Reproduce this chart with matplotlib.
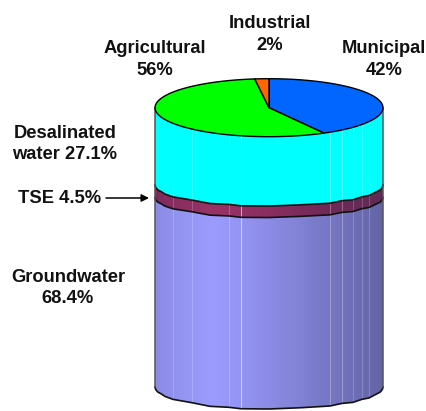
import numpy as np
import matplotlib
matplotlib.use("Agg")
import matplotlib.pyplot as plt
from matplotlib.patches import Polygon
from matplotlib.colors import LinearSegmentedColormap

# top of the cylinder: use by sector
use_names = ["Municipal", "Agricultural", "Industrial"]
use_values = [42, 56, 2]
use_colors = ["#0066ff", "#00ff00", "#ff6600"]

# body of the cylinder: source of water, top to bottom
source_values = [27.1, 4.5, 68.4]

plt.rcParams["font.family"] = ["Liberation Sans", "DejaVu Sans"]

cx, cy = 269, 107.7
rx, ry = 114, 29
stack_top = 110
stack_h = 277
low_ry = [21, 20, 22]

# x of the facet seams on the side of the cylinder, with a small wobble for the rough edge
seams = np.array([155, 155.6, 156.5, 158, 161, 165, 173, 192, 210, 229, 241, 269,
                  300, 330, 342, 353, 362, 369, 376, 380, 381.5, 382.4, 383])
wobble = np.array([0, 0, 0, 0.2, -0.3, 0.4, 0.5, -0.5, 0.5, -0.3, 0.4, 0,
                   -0.4, 0.4, -0.5, 0.5, -0.4, 0.4, -0.3, 0.2, 0, 0, 0])
light_seams = [173, 192, 229, 241, 330, 342, 353, 362, 369]
seam_alpha = [0.2, 0.2, 0.25, 0.6, 0.3, 0.3, 0.2, 0.2, 0.2]


def lower_edge(y, b):
    ys = y + b * np.sqrt(np.clip(1 - ((seams - cx) / rx) ** 2, 0, 1))
    return ys + wobble


fig = plt.figure(figsize=(4.27, 4.11), dpi=100)
ax = fig.add_axes([0, 0, 1, 1])
ax.set_xlim(0, 427)
ax.set_ylim(411, 0)
ax.axis("off")

cyan = LinearSegmentedColormap.from_list("c", ["#00ffff", "#00ffff"])
tse = LinearSegmentedColormap.from_list("t", ["#7f2a5c", "#993366", "#8a2e60",
                                              "#702a58", "#5f2a55"])
gw = LinearSegmentedColormap.from_list("g", ["#8c8ce6", "#9c9cff", "#8c8ce6",
                                             "#7878c8", "#6464a6"])
cmaps = [cyan, tse, gw]

grad = np.linspace(0, 1, 256).reshape(1, -1)
edges = [np.column_stack([seams, np.full(len(seams), cy)])]
pos = stack_top
for i, val in enumerate(source_values):
    pos = pos + stack_h * val / 100
    low = lower_edge(pos, low_ry[i])
    upper = edges[-1]
    pts = np.vstack([upper, np.column_stack([seams, low])[::-1]])
    band = Polygon(pts, closed=True, fc="none", ec="none")
    ax.add_patch(band)
    im = ax.imshow(grad, cmap=cmaps[i], extent=[155, 383, low.max() + 2, cy - 2],
                   aspect="auto", zorder=1)
    im.set_clip_path(band)
    # faint seams
    for sx, sa in zip(light_seams, seam_alpha):
        j = list(seams).index(sx)
        ax.plot([sx, sx], [upper[j, 1], low[j]], color="white", lw=0.7,
                alpha=sa, zorder=2)
    ax.plot(seams, low, color="#111111", lw=1.2, zorder=3)
    edges.append(np.column_stack([seams, low]))

ax.plot([155, 155], [cy, edges[-1][0, 1]], color="#555555", lw=1.1, zorder=3)
ax.plot([383, 383], [cy, edges[-1][-1, 1]], color="#555555", lw=1.1, zorder=3)

# pie on the top, squashed circle, clockwise from 12 o'clock
start = 90
for val, col in zip(use_values, use_colors):
    sweep = val * 3.6
    t = np.radians(np.linspace(start, start - sweep, 60))
    xs = np.r_[0, np.cos(t), 0] * rx + cx
    ys = np.r_[0, -np.sin(t), 0] * ry + cy
    ax.fill(xs, ys, fc=col, ec="black", lw=1.0, zorder=4, joinstyle="round")
    start -= sweep

# labels
lab = dict(ha="center", va="center", fontweight="bold", fontsize=13.2,
           color="#111111", linespacing=1.32, zorder=6)
ax.text(384, 59.5, f"{use_names[0]}\n{use_values[0]}%", **lab)
ax.text(155, 59.5, f"{use_names[1]}\n{use_values[1]}%", **lab)
ax.text(270, 34.5, f"{use_names[2]}\n{use_values[2]}%", **lab)
ax.text(65, 144, f"Desalinated\nwater {source_values[0]}%", **lab)
ax.text(60, 198, f"TSE {source_values[1]}%", **lab)
ax.text(68, 288, f"Groundwater\n{source_values[2]}%", **lab)
ax.annotate("", xy=(149, 198), xytext=(106, 198),
            arrowprops=dict(arrowstyle="-|>", color="black", lw=1.1, mutation_scale=11,
                            shrinkA=0, shrinkB=0))

fig.savefig("out.png", dpi=100)
